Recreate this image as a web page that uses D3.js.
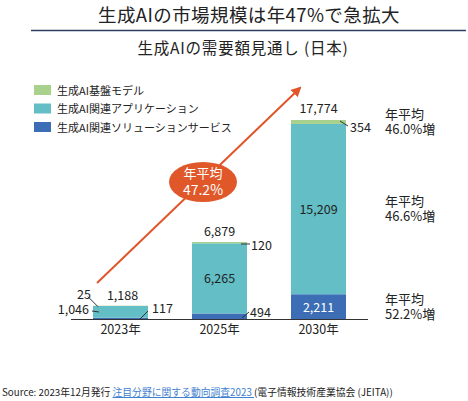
<!doctype html>
<html>
<head>
  <meta charset="utf-8">
  <style>
      body {
         margin:0;
         background:#fff;
      }
      svg {
         width:468px;
         height:401px;
         display:block;
      }
      text {
         font-family:"Noto Sans CJK JP", "Noto Sans", sans-serif;
         fill:#222;
      }
      .num {
         font-size:12.5px;
      }
      .lead {
         stroke:#333;
         stroke-width:1;
      }
  </style>
  <script src="https://cdn.jsdelivr.net/npm/d3@7"></script>
</head>

<body>
  <script>

      // data (億円)
      var years = ["2023年", "2025年", "2030年"];
      var baseModel = [25, 120, 354];
      var appsValues = [1046, 6265, 15209];
      var solutionValues = [117, 494, 2211];
      var totals = [1188, 6879, 17774];
      var seriesNames = ["生成AI基盤モデル", "生成AI関連アプリケーション", "生成AI関連ソリューションサービス"];
      var seriesColors = ["#a9d18e", "#63bec6", "#3c6db5"];
      var growthLabels = ["46.0%増", "46.6%増", "52.2%増"];
      var overallGrowth = "47.2%";

      var svg = d3.select("body").append("svg");

      // titles
      svg.append("text")
         .attr("x", 249).attr("y", 22)
         .attr("text-anchor", "middle")
         .style("font-size", "18.5px")
         .style("letter-spacing", "0.4px")
         .text("生成AIの市場規模は年47%で急拡大");

      svg.append("line")
         .attr("x1", 31).attr("x2", 466)
         .attr("y1", 30.5).attr("y2", 30.5)
         .attr("stroke", "#2e3e5c")
         .attr("stroke-width", 1.5);

      svg.append("text")
         .attr("x", 243).attr("y", 54)
         .attr("text-anchor", "middle")
         .style("font-size", "15.5px")
         .style("letter-spacing", "0.8px")
         .text("生成AIの需要額見通し (日本)");

      // scales
      var x = d3.scaleBand()
         .domain(years)
         .range([71, 368])
         .paddingInner(0.4444)
         .paddingOuter(0.2222);

      var y = d3.scaleLinear()
         .domain([0, d3.max(totals)])
         .range([319, 120]);

      // stack: solutions at the bottom, apps, then base model on top
      var rows = years.map(function(yr, i) {
         return { year: yr, sol: solutionValues[i], app: appsValues[i], base: baseModel[i] };
      });
      var stack = d3.stack().keys(["sol", "app", "base"]);
      var layers = stack(rows);
      var layerColor = { sol: seriesColors[2], app: seriesColors[1], base: seriesColors[0] };

      svg.append("g").selectAll("g")
         .data(layers)
         .enter().append("g")
         .attr("fill", function(d) { return layerColor[d.key]; })
         .selectAll("rect")
         .data(function(d) { return d; })
         .enter().append("rect")
         .attr("x", function(d) { return x(d.data.year); })
         .attr("width", x.bandwidth())
         .attr("y", function(d) { return y(d[1]); })
         .attr("height", function(d) { return y(d[0]) - y(d[1]); });

      // axis line + year labels
      var xAxis = svg.append("g")
         .attr("transform", "translate(0," + y(0) + ")")
         .call(d3.axisBottom(x).tickSize(0).tickPadding(6));
      xAxis.select(".domain").attr("stroke", "#333").attr("d", "M71,0.5H368");
      xAxis.selectAll("text")
         .style("font-size", "12.5px")
         .style("font-family", "\"Noto Sans CJK JP\", sans-serif")
         .attr("fill", "#222");

      // legend
      var legend = svg.append("g").selectAll("g")
         .data(seriesNames)
         .enter().append("g")
         .attr("transform", function(d, i) { return "translate(34," + (85 + i * 18.5) + ")"; });
      legend.append("rect")
         .attr("width", 17).attr("height", 10)
         .attr("fill", function(d, i) { return seriesColors[i]; });
      legend.append("text")
         .attr("x", 23).attr("y", 9.5)
         .style("font-size", "11px")
         .text(function(d) { return d; });

      // arrow
      svg.append("defs").append("marker")
         .attr("id", "head")
         .attr("viewBox", "0 0 10 10")
         .attr("refX", 8).attr("refY", 5)
         .attr("markerWidth", 5).attr("markerHeight", 5)
         .attr("orient", "auto")
         .append("path")
         .attr("d", "M0,0L10,5L0,10z")
         .attr("fill", "#e0562a");

      svg.append("line")
         .attr("x1", 97).attr("y1", 283)
         .attr("x2", 300).attr("y2", 88)
         .attr("stroke", "#e0562a")
         .attr("stroke-width", 2)
         .attr("marker-end", "url(#head)");

      svg.append("ellipse")
         .attr("cx", 203).attr("cy", 182)
         .attr("rx", 34).attr("ry", 20)
         .attr("fill", "#e0582a");
      svg.append("text")
         .attr("x", 203).attr("y", 178)
         .attr("text-anchor", "middle")
         .style("font-size", "13px")
         .style("fill", "#fff")
         .text("年平均");
      svg.append("text")
         .attr("x", 203).attr("y", 195)
         .attr("text-anchor", "middle")
         .style("font-size", "14px")
         .style("fill", "#fff")
         .text(overallGrowth);

      // value labels
      var xc = function(i) { return x(years[i]) + x.bandwidth() / 2; };
      var xr = function(i) { return x(years[i]) + x.bandwidth(); };
      var fmt = d3.format(",");

      function label(tx, ty, str, anchor, color) {
         svg.append("text")
            .attr("class", "num")
            .attr("x", tx).attr("y", ty)
            .attr("text-anchor", anchor || "start")
            .style("fill", color || "#222")
            .text(str);
      }
      function lead(x1, y1, x2, y2) {
         svg.append("line").attr("class", "lead")
            .attr("x1", x1).attr("y1", y1).attr("x2", x2).attr("y2", y2);
      }

      // totals on top
      label(xc(0) + 2, y(totals[0]) - 6, fmt(totals[0]), "middle");
      label(xc(1), y(totals[1]) - 6, fmt(totals[1]), "middle");
      label(xc(2), y(totals[2]) - 7, fmt(totals[2]), "middle");

      // 2023 small segments
      label(x(years[0]) - 16, y(totals[0]) - 7, fmt(baseModel[0]), "start");
      lead(x(years[0]) - 5, y(totals[0]) - 9, x(years[0]) + 5, y(totals[0]) + 1);
      label(x(years[0]) - 4, y(0) - 5, fmt(appsValues[0]), "end");
      lead(x(years[0]) - 1, y(0) - 8, x(years[0]) + 6, y(0) - 7);
      label(xr(0) + 4, y(0) - 6, fmt(solutionValues[0]), "start");
      lead(xr(0) - 8, y(0), xr(0), y(0) - 8);

      // 2025
      label(xr(1) + 4, y(totals[1]) + 8, fmt(baseModel[1]), "start");
      lead(xr(1) - 6, y(totals[1]) + 2, xr(1) + 3, y(totals[1]) + 2);
      label(xc(1), y(solutionValues[1] + appsValues[1] / 2) + 5, fmt(appsValues[1]), "middle");
      label(xr(1) + 3, y(0) - 2, fmt(solutionValues[1]), "start");
      lead(xr(1) - 5, y(0) - 1, xr(1) + 2, y(0) - 7);

      // 2030
      label(xr(2) + 4, y(totals[2]) + 12, fmt(baseModel[2]), "start");
      lead(xr(2) - 6, y(totals[2]) + 1, xr(2) + 2, y(totals[2]) + 6);
      label(xc(2), y(solutionValues[2] + appsValues[2] / 2) + 5, fmt(appsValues[2]), "middle");
      label(xc(2), y(solutionValues[2] / 2) + 5, fmt(solutionValues[2]), "middle", "#fff");

      // growth notes at the right
      var growthY = [
         y(totals[2] - baseModel[2] / 2),
         y(solutionValues[2] + appsValues[2] / 2),
         y(solutionValues[2] / 2)
      ];
      growthLabels.forEach(function(g, i) {
         svg.append("text")
            .attr("x", 385).attr("y", growthY[i] - 3)
            .style("font-size", "13px")
            .text("年平均");
         svg.append("text")
            .attr("x", 385).attr("y", growthY[i] + 12)
            .style("font-size", "13px")
            .text(g);
      });

      // source
      var src = svg.append("text")
         .attr("x", 2).attr("y", 396)
         .style("font-size", "9.8px");
      src.append("tspan").text("Source:  2023年12月発行 ");
      src.append("tspan")
         .style("fill", "#3f7fd0")
         .style("text-decoration", "underline")
         .text("注目分野に関する動向調査2023 ");
      src.append("tspan").text("(電子情報技術産業協会 (JEITA))");

  </script>
</body>
</html>
